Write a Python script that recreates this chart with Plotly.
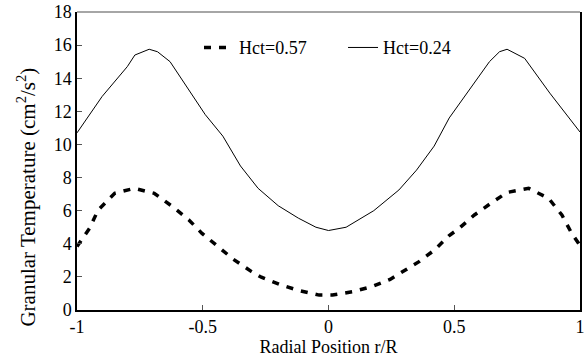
import plotly.graph_objects as go

# Hct = 0.24 (solid)
r_024 = [-1, -0.9, -0.8, -0.77, -0.713, -0.68, -0.63, -0.56, -0.49, -0.42, -0.35, -0.28, -0.2, -0.12,
         -0.05, 0, 0.07, 0.18, 0.28, 0.35, 0.42, 0.48, 0.56, 0.64, 0.68, 0.71, 0.78, 0.88, 1]
t_024 = [10.7, 12.9, 14.7, 15.4, 15.75, 15.6, 15.0, 13.4, 11.8, 10.5, 8.7, 7.35, 6.3, 5.55,
         5.0, 4.8, 5.0, 6.0, 7.25, 8.45, 9.9, 11.6, 13.3, 15.0, 15.6, 15.75, 15.2, 13.1, 10.75]

# Hct = 0.57 (dashed)
r_057 = [-1, -0.95, -0.916, -0.85, -0.772, -0.693, -0.62, -0.555, -0.503, -0.437, -0.378, -0.306,
         -0.267, -0.188, -0.116, -0.037, 0.016, 0.094, 0.173, 0.245, 0.29, 0.36, 0.422, 0.48, 0.52,
         0.58, 0.646, 0.71, 0.796, 0.875, 0.928, 0.967, 1]
t_057 = [3.83, 4.94, 6.04, 7.05, 7.35, 7.05, 6.24, 5.44, 4.63, 3.83, 3.06, 2.32,
         1.98, 1.51, 1.17, 0.9, 0.9, 1.1, 1.41, 1.85, 2.25, 2.92, 3.63, 4.5, 4.94,
         5.74, 6.45, 7.1, 7.35, 6.75, 5.74, 4.63, 3.9]

x_ticks = [-1, -0.5, 0, 0.5, 1]
x_tick_labels = ["-1", "-0.5", "0", "0.5", "1"]
y_ticks = list(range(0, 19, 2))

FONT = "Liberation Serif"

fig = go.Figure()
fig.add_trace(go.Scatter(x=r_057, y=t_057, mode="lines", name="Hct=0.57",
                         line=dict(color="black", width=3.5, dash="7px,8px")))
fig.add_trace(go.Scatter(x=r_024, y=t_024, mode="lines", name="Hct=0.24",
                         line=dict(color="black", width=1)))

fig.update_layout(
    width=586, height=358,
    margin=dict(l=77, r=1, t=12, b=48),
    plot_bgcolor="white", paper_bgcolor="white",
    font=dict(family=FONT, size=18, color="black"),
    showlegend=True,
    legend=dict(orientation="h", x=0.2426, y=0.88, xanchor="left", yanchor="middle",
                bgcolor="rgba(0,0,0,0)", font=dict(family=FONT, size=18),
                entrywidth=99, tracegroupgap=0),
    xaxis=dict(range=[-1, 1], tickvals=x_ticks, ticktext=x_tick_labels,
               showgrid=False, zeroline=False, showline=True, linecolor="black", linewidth=1.5,
               ticks="inside", ticklen=5, tickcolor="#555", tickwidth=1,
               ticklabeloverflow="allow", tickfont=dict(size=18),
               title=dict(text="Radial Position r/R", standoff=2, font=dict(size=18))),
    yaxis=dict(range=[0, 18], tickvals=y_ticks,
               showgrid=False, zeroline=False, showline=True, linecolor="black", linewidth=1.5,
               mirror=True, tickfont=dict(size=18),
               ticks="inside", ticklen=5, tickcolor="#555", tickwidth=1),
)
fig.add_annotation(text="Granular Temperature (cm<sup>2</sup>/s<sup>2</sup>)",
                   xref="paper", yref="paper", x=-0.1004, y=0.379,
                   xanchor="center", yanchor="middle", textangle=-90, showarrow=False,
                   font=dict(family=FONT, size=21, color="black"))
fig.add_shape(type="line", xref="paper", yref="paper", x0=0, x1=1, y0=1, y1=1,
              line=dict(color="#888", width=1.5))

fig.write_html("out.html")
